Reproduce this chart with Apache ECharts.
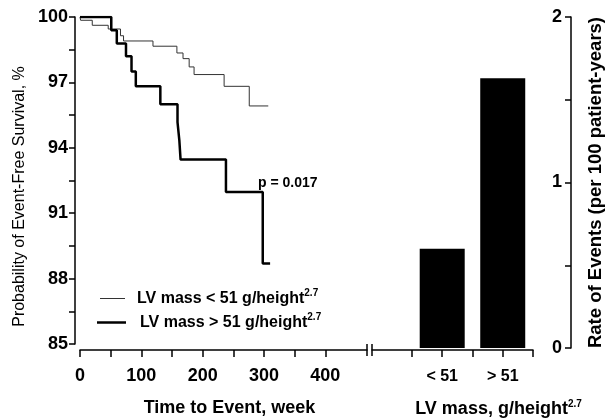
<!DOCTYPE html>
<html><head><meta charset="utf-8">
<script src="https://cdn.jsdelivr.net/npm/echarts@6/dist/echarts.min.js"></script>
<style>html,body{margin:0;padding:0;background:#fff}#c{width:611px;height:418px}</style>
</head><body><div id="c"></div>
<script>
const FONT = '"Liberation Sans", Arial, Helvetica, sans-serif';

// Kaplan-Meier curves (week, survival % after the step)
const weeksLow  = [0, 1, 20, 46, 66, 71, 119, 158, 168, 178, 186, 235, 276, 307];
const survLow   = [100, 99.85, 99.62, 99.45, 99.14, 98.9, 98.66, 98.35, 98.09, 97.71, 97.36, 96.82, 95.92, 95.92];
const weeksHigh = [0, 51, 60, 75, 84, 91, 131, 159, 162, 164, 238, 298, 310];
const survHigh  = [100, 99.39, 98.78, 98.2, 97.5, 96.82, 96.0, 95.18, 94.34, 93.46, 91.97, 88.69, 88.69];
const seriesNames = ['LV mass < 51 g/height', 'LV mass > 51 g/height'];
const superscript = '2.7';

// tick labels
const survTicks = [85, 88, 91, 94, 97, 100];
const weekTicks = [0, 100, 200, 300, 400];
const weekMinorTicks = [0, 50, 100, 150, 200, 250, 300, 350, 400];

// bar chart
const barCategories = ['< 51', '> 51'];
const eventRates = [0.60, 1.63];
const rateTicks = [0, 1, 2];

const pText = 'p = 0.017';
const titles = {
  km: 'Time to Event, week',
  surv: 'Probability of Event-Free Survival, %',
  bar: 'LV mass, g/height',
  rate: 'Rate of Events (per 100 patient-years)'
};

const chart = echarts.init(document.getElementById('c'));
const blk = {color: '#000', width: 1.5};
const tickLabel = {color: '#000', fontFamily: FONT, fontWeight: 'bold', fontSize: 18};
const barPos = barCategories.map((c, i) => i + 1);
const barTicks = [0.5].concat(barPos.flatMap(p => [p, p + 0.5]));
const supRich = (size) => ({
  t: {fontFamily: FONT, fontSize: size, fontWeight: 'bold', color: '#000'},
  s: {fontFamily: FONT, fontSize: 10, fontWeight: 'bold', color: '#000', padding: [0, 0, 11, 0]}
});
const legendBase = {
  orient: 'vertical', icon: 'rect', selectedMode: false, padding: 0,
  formatter: n => '{t|' + n + '}{s|' + superscript + '}'
};

const option = {
  animation: false,
  textStyle: {fontFamily: FONT},
  title: {text: pText, left: 258, top: 176, padding: 0,
    textStyle: {fontFamily: FONT, fontSize: 14, fontWeight: 'bold', color: '#000'}},
  legend: [
    Object.assign({}, legendBase, {left: 100, top: 288, itemWidth: 25, itemHeight: 1, data: [seriesNames[0]],
      textStyle: {padding: [0, 0, 0, 7], rich: supRich(16)}}),
    Object.assign({}, legendBase, {left: 97, top: 312, itemWidth: 29, itemHeight: 2.5, data: [seriesNames[1]],
      textStyle: {padding: [0, 0, 0, 9], rich: supRich(16)}})
  ],
  grid: [
    {left: 80, top: 17, width: 287, height: 327, outerBoundsMode: 'none', containLabel: false},
    {left: 372, top: 17, width: 161, height: 331, outerBoundsMode: 'none', containLabel: false}
  ],
  xAxis: [
    {gridIndex: 0, type: 'value', min: 0, max: 468, offset: 6,
      axisLine: {show: true, onZero: false, lineStyle: blk},
      axisTick: {show: true, length: 7, customValues: weekMinorTicks, lineStyle: blk},
      axisLabel: Object.assign({customValues: weekTicks, margin: 17}, tickLabel),
      splitLine: {show: false},
      name: titles.km, nameLocation: 'middle', nameGap: 49,
      nameTextStyle: {fontFamily: FONT, fontSize: 18, fontWeight: 'bold', color: '#000', padding: [0, 0, 0, 12]}
    },
    {gridIndex: 1, type: 'value', min: -0.16, max: 2.5, offset: 2,
      axisLine: {show: true, onZero: false, lineStyle: blk},
      axisTick: {show: true, length: 7, customValues: barTicks, lineStyle: blk},
      axisLabel: Object.assign({customValues: barPos, margin: 19,
        formatter: v => barCategories[Math.round(v) - 1]}, tickLabel, {fontSize: 16}),
      splitLine: {show: false},
      name: '{t|' + titles.bar + '}{s|' + superscript + '}', nameLocation: 'middle', nameGap: 49,
      nameTextStyle: {padding: [0, 0, 0, 92], rich: supRich(18)}
    }
  ],
  yAxis: [
    {gridIndex: 0, type: 'value', min: survTicks[0], max: survTicks[survTicks.length - 1], interval: 3, offset: 5,
      axisLine: {show: true, onZero: false, lineStyle: blk},
      axisTick: {show: true, length: 6, lineStyle: blk},
      minorTick: {show: true, splitNumber: 2, length: 6, lineStyle: blk},
      axisLabel: Object.assign({margin: 7}, tickLabel),
      splitLine: {show: false}, minorSplitLine: {show: false},
      name: titles.surv, nameLocation: 'middle', nameGap: 47, nameRotate: 90,
      nameTextStyle: {fontFamily: FONT, fontSize: 16, color: '#000', padding: [0, 32, 0, 0]}
    },
    {gridIndex: 1, type: 'value', position: 'right', offset: 38,
      min: rateTicks[0], max: rateTicks[rateTicks.length - 1], interval: 1,
      axisLine: {show: true, onZero: false, lineStyle: blk},
      axisTick: {show: true, inside: true, length: 6, lineStyle: blk},
      minorTick: {show: true, splitNumber: 2, length: 6, lineStyle: blk},
      axisLabel: Object.assign({inside: true, margin: 9}, tickLabel),
      splitLine: {show: false}, minorSplitLine: {show: false},
      name: titles.rate, nameLocation: 'middle', nameGap: 15, nameRotate: 90,
      nameTextStyle: {fontFamily: FONT, fontSize: 18.5, fontWeight: 'bold', color: '#000'}
    }
  ],
  series: [
    {name: seriesNames[0], type: 'line', xAxisIndex: 0, yAxisIndex: 0, step: 'end', symbol: 'none',
      data: weeksLow.map((w, i) => [w, survLow[i]]),
      lineStyle: {color: '#333', width: 1}, itemStyle: {color: '#333'}},
    {name: seriesNames[1], type: 'line', xAxisIndex: 0, yAxisIndex: 0, step: 'end', symbol: 'none',
      data: weeksHigh.map((w, i) => [w, survHigh[i]]),
      lineStyle: {color: '#000', width: 2.5}, itemStyle: {color: '#000'}},
    {type: 'bar', xAxisIndex: 1, yAxisIndex: 1, barWidth: 45,
      data: eventRates.map((r, i) => [barPos[i], r]),
      itemStyle: {color: '#000'}}
  ]
};
chart.setOption(option);

// axis break marks between the two x-axes
const kmEnd = chart.convertToPixel({xAxisIndex: 0}, 468);
const barStart = chart.convertToPixel({xAxisIndex: 1}, -0.16);
const axisY = chart.convertToPixel({yAxisIndex: 0}, survTicks[0]) + 6;
chart.setOption({graphic: [kmEnd, barStart].map(x => ({
  type: 'line', shape: {x1: x, y1: axisY - 6, x2: x, y2: axisY + 6},
  style: {stroke: '#000', lineWidth: 1.5}
}))});
</script>
</body></html>
